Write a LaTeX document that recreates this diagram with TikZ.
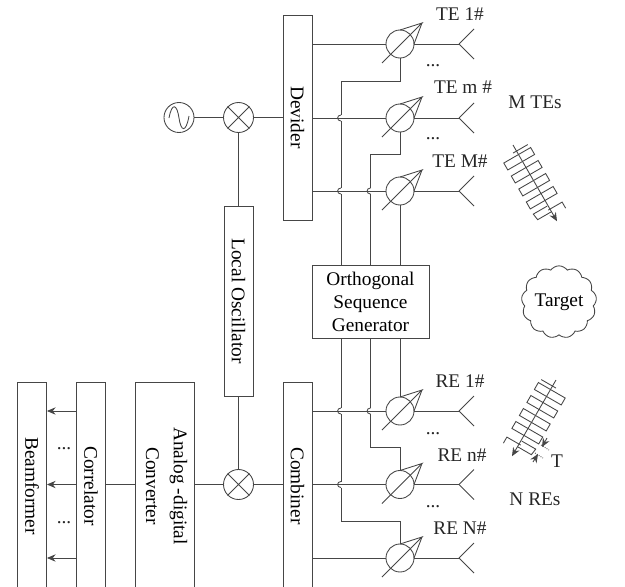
\documentclass[tikz,border=0pt]{standalone}
\usepackage{fontspec}
\setmainfont{Liberation Serif}
\usetikzlibrary{arrows.meta, shapes.symbols}
\definecolor{cLine}{RGB}{70,70,70}
\tikzset{
	blk/.style     ={rectangle, draw=cLine, line width=0.65pt, inner sep=0pt, align=center},
	mixer/.style   ={circle, draw=cLine, line width=0.65pt, minimum size=22.5pt, inner sep=0pt},
	shifter/.style ={circle, draw=cLine, line width=0.65pt, minimum size=21pt, inner sep=0pt},
	sig/.style     ={draw=cLine, line width=0.65pt},
	lbl/.style     ={inner sep=0pt, text=black!85},
	tip/.style     ={-{Stealth[length=6.5pt, width=5.5pt]}, draw=cLine, line width=0.65pt},
	% antenna array seen from the side
	elemarray/.pic={
		\begin{scope}[rotate=-60, sig]
			\draw[tip] (0,0) -- (88,0);
			\draw (7,-13) -- (7,4);
			\foreach \t in {15,30,45,60} \draw (\t-4,-14) rectangle (\t+4,17);
			\draw (70,1) -- (70,17) -- (77,16) -- (77,0);
			\draw (81,-14) -- (74,-14) -- (74,2);
		\end{scope}
	},
}

\begin{document}
\begin{tikzpicture}[x=0.75pt, y=-0.75pt, font=\fontsize{14.5}{17.2}\selectfont]
	\clip (0,0) rectangle (625,586);
	\node[blk, minimum width=21.75pt, minimum height=153.75pt] (dev) at (297.5,117.5) {\rotatebox{-90}{Devider}};
	\node[blk, minimum width=21.75pt, minimum height=142.5pt] (lo) at (238.5,301) {\rotatebox{-90}{Local Oscillator}};
	\node[blk, minimum width=21.75pt, minimum height=156pt] (com) at (297.5,486) {\rotatebox{-90}{Combiner}};
	\node[blk, minimum width=44.25pt, minimum height=156pt] (adc) at (164.5,486) {\rotatebox{-90}{\begin{tabular}{@{}c@{}}Analog -digital\\[3.6pt]Converter\end{tabular}}};
	\node[blk, minimum width=21.75pt, minimum height=156pt] (cor) at (91,486) {\rotatebox{-90}{Correlator}};
	\node[blk, minimum width=21.75pt, minimum height=156pt] (bf) at (32,486) {\rotatebox{-90}{Beamformer}};
	\node[blk, minimum width=87.75pt, minimum height=54.75pt] (gen) at (370.5,301.5) {Orthogonal\\Sequence\\Generator};

	\node[mixer] (osc) at (179,117.5) {};
	\node[mixer] (m1) at (238.5,117.5) {};
	\node[mixer] (m2) at (238.5,484.5) {};
	\draw[sig] (169,118) .. controls (172,102) and (177,104) .. (179,118) .. controls (181,132) and (186,133) .. (189,116);
	\foreach \m in {m1,m2} {
		\draw[sig] (\m.45) -- (\m.225) (\m.135) -- (\m.315);
	}

	\foreach \n/\y in {t1/44,t2/118,t3/191,r1/411,r2/484.5,r3/558} {
		\node[shifter] (\n) at (400,\y) {};
		\coordinate (\n a) at (459,\y);
		\begin{scope}[shift={(400,\y)}]
			\draw[sig] (-18,19) -- (22,-21) -- (0,-14);
			\draw[sig] (22,-21) -- (14,0);
		\end{scope}
		\draw[sig] (\n) ++(14,0) -- (\n a);
		\draw[sig] (\n a) -- ++(15,-15);
		\draw[sig] (\n a) -- ++(15,15);
	}

	% sequence lines
	\coordinate (c1) at (341,265);
	\coordinate (c2) at (370.5,265);
	\coordinate (c3) at (400,265);
	\coordinate (d1) at (341,338);
	\coordinate (d2) at (370.5,338);
	\coordinate (d3) at (400,338);
	\draw[sig] (t1.south) -- (400,81) -| (c1);
	\draw[sig] (t2.south) -- (400,154) -| (c2);
	\draw[sig] (t3.south) -- (c3);
	\draw[sig] (d3) -- (r1.north);
	\draw[sig] (d2) |- (400,447.5) -- (r2.north);
	\draw[sig] (d1) |- (400,521) -- (r3.north);

	% hops over the feed lines
	\foreach \x/\y in {341/118,341/191,370.5/191,341/411,370.5/411,341/484.5} {
		\begin{scope}[shift={(\x,\y)}]
			\draw[white, line width=1.4pt] (0,-3) -- (0,3);
			\draw[sig] (0,3) .. controls (-4.5,3) and (-4.5,-3) .. (0,-3);
		\end{scope}
	}

	\draw[sig] (osc) -- (m1);
	\draw[sig] (m1) -- (dev.west);
	\draw[sig] (m1) -- (lo.north);
	\draw[sig] (lo.south) -- (m2);
	\draw[sig] (m2) -- (com.west |- m2);
	\draw[sig] (adc.east |- m2) -- (m2);
	\draw[sig] (cor.east |- m2) -- (adc.west |- m2);
	\foreach \n in {t1,t2,t3} \draw[sig] (dev.east |- \n) -- (\n.west);
	\foreach \n in {r1,r2,r3} \draw[sig] (com.east |- \n) -- (\n.west);
	\foreach \n in {r1,r2,r3} \draw[tip] (cor.west |- \n) -- (bf.east |- \n);

	\node[lbl] (lt1) at (460,14) {TE 1\#};
	\node[lbl] (lt2) at (463,87) {TE m \#};
	\node[lbl] (lt3) at (460,161) {TE M\#};
	\node[lbl] (lr1) at (460,381) {RE 1\#};
	\node[lbl] (lr2) at (462,455) {RE n\#};
	\node[lbl] (lr3) at (460,528) {RE N\#};
	\node[lbl] (mte) at (535,102) {M TEs};
	\node[lbl] (nre) at (535,499) {N REs};
	\node[lbl] (tt) at (557,461) {T};
	\foreach \x/\y in {433/66,433/139,433/434,433/507,64/449,64/523} \node[lbl] at (\x,\y) {...};

	\node[cloud, draw=cLine, line width=0.65pt, cloud puffs=13, cloud puff arc=110, aspect=1.05, minimum width=55pt, minimum height=52pt, inner sep=0pt] (target) at (559,302) {Target};

	\pic at (513,145) {elemarray};
	\pic[xscale=-1] at (556,380) {elemarray};
	\draw[tip] (547,438) -- (542,447);
	\draw[tip] (533,462) -- (538,454);
	\draw[sig, densely dotted] (541,445) -- (549,450);
	\draw[sig, densely dotted] (535,453) -- (543,458);
\end{tikzpicture}
\end{document}
